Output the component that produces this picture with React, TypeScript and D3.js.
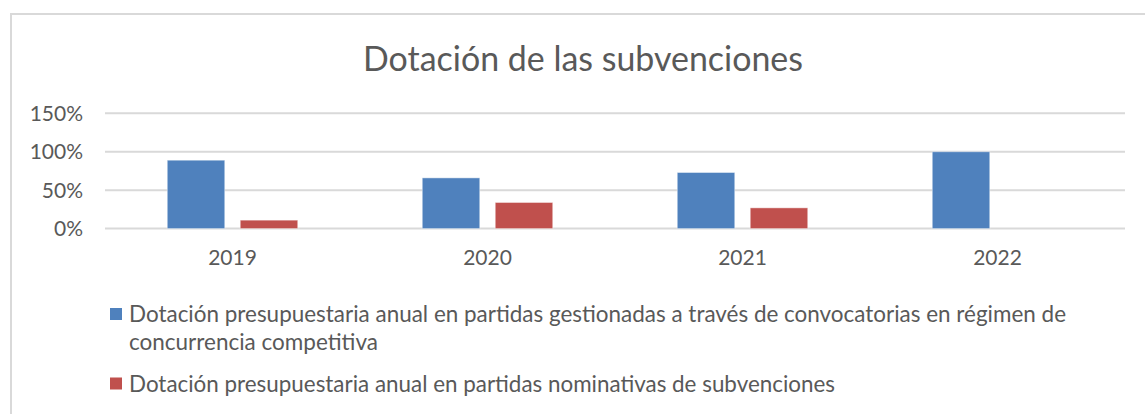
import React, { useEffect, useRef } from "react";
import * as d3 from "d3";

const years = ["2019", "2020", "2021", "2022"];
const competitiva = [0.89, 0.66, 0.73, 1.0];
const nominativas = [0.11, 0.34, 0.27, 0];
const yTicks = [0, 0.5, 1, 1.5];
const seriesNames = [
  "Dotación presupuestaria anual en partidas gestionadas a través de convocatorias en régimen de concurrencia competitiva",
  "Dotación presupuestaria anual en partidas nominativas de subvenciones",
];
const chartTitle = "Dotación de las subvenciones";

const W = 1145;
const H = 414;
const FONT = "Lato, 'Open Sans', sans-serif";
const TEXT = "#595959";
const colors = ["#4F81BD", "#C0504D"];

export default function App() {
  const ref = useRef<SVGSVGElement>(null);

  useEffect(() => {
    const svg = d3.select(ref.current);
    svg.selectAll("*").remove();

    // chart area border
    svg
      .append("rect")
      .attr("x", 11)
      .attr("y", 14)
      .attr("width", W + 20)
      .attr("height", H + 20)
      .attr("fill", "white")
      .attr("stroke", "#d9d9d9")
      .attr("stroke-width", 2);

    svg
      .append("text")
      .attr("x", 583)
      .attr("y", 71)
      .attr("text-anchor", "middle")
      .attr("font-family", FONT)
      .attr("font-size", 34)
      .attr("fill", TEXT)
      .attr("textLength", 440)
      .attr("lengthAdjust", "spacingAndGlyphs")
      .text(chartTitle);

    const x = d3.scaleBand().domain(years).range([105, 1125]);
    const keys = ["a", "b"];
    const x1 = d3
      .scaleBand()
      .domain(keys)
      .range([0, x.bandwidth()])
      .paddingInner(0.212)
      .paddingOuter(0.853);
    const y = d3.scaleLinear().domain([0, 1.5]).range([228.6, 113.3]);

    // gridlines
    svg
      .append("g")
      .selectAll("line")
      .data(yTicks)
      .join("line")
      .attr("x1", 105)
      .attr("x2", 1125)
      .attr("y1", (d) => y(d))
      .attr("y2", (d) => y(d))
      .attr("stroke", "#d9d9d9")
      .attr("stroke-width", 2);

    svg
      .append("g")
      .selectAll("text")
      .data(yTicks)
      .join("text")
      .attr("x", 83)
      .attr("y", (d) => y(d))
      .attr("dy", "0.36em")
      .attr("text-anchor", "end")
      .attr("font-family", FONT)
      .attr("font-size", 21)
      .attr("fill", TEXT)
      .text((d) => d3.format(".0%")(d));

    const rows = years.map((yr, i) => ({
      year: yr,
      vals: [competitiva[i], nominativas[i]],
    }));

    const groups = svg
      .append("g")
      .selectAll("g")
      .data(rows)
      .join("g")
      .attr("transform", (d) => `translate(${x(d.year)},0)`);

    groups
      .selectAll("rect")
      .data((d) => d.vals.filter((v) => v > 0).map((v, k) => ({ v, k })))
      .join("rect")
      .attr("x", (d) => x1(keys[d.k])!)
      .attr("width", x1.bandwidth())
      .attr("y", (d) => y(d.v))
      .attr("height", (d) => y(0) - y(d.v))
      .attr("fill", (d) => colors[d.k])
      .attr("stroke", "white")
      .attr("stroke-opacity", 0.45)
      .attr("stroke-width", 1);

    svg
      .append("g")
      .selectAll("text")
      .data(years)
      .join("text")
      .attr("x", (d) => x(d)! + x.bandwidth() / 2)
      .attr("y", 265)
      .attr("text-anchor", "middle")
      .attr("font-family", FONT)
      .attr("font-size", 21)
      .attr("fill", TEXT)
      .text((d) => d);

    // legend
    const legendLines = [
      { text: "Dotación presupuestaria anual en partidas gestionadas a través de convocatorias en régimen de", len: 937, y: 322, box: 0 },
      { text: "concurrencia competitiva", len: 249, y: 350, box: -1 },
      { text: seriesNames[1], len: 706, y: 391.5, box: 1 },
    ];
    const lg = svg.append("g");
    lg.selectAll("rect")
      .data(legendLines.filter((d) => d.box >= 0))
      .join("rect")
      .attr("x", 110)
      .attr("y", (d) => d.y - 14)
      .attr("width", 12)
      .attr("height", 12)
      .attr("fill", (d) => colors[d.box]);
    lg.selectAll("text")
      .data(legendLines)
      .join("text")
      .attr("x", 129)
      .attr("y", (d) => d.y)
      .attr("font-family", FONT)
      .attr("font-size", 23)
      .attr("fill", TEXT)
      .attr("textLength", (d) => d.len)
      .attr("lengthAdjust", "spacingAndGlyphs")
      .text((d) => d.text);
  }, []);

  return (
    <svg
      ref={ref}
      width={W}
      height={H}
      style={{ position: "absolute", left: 0, top: 0, display: "block" }}
    />
  );
}
